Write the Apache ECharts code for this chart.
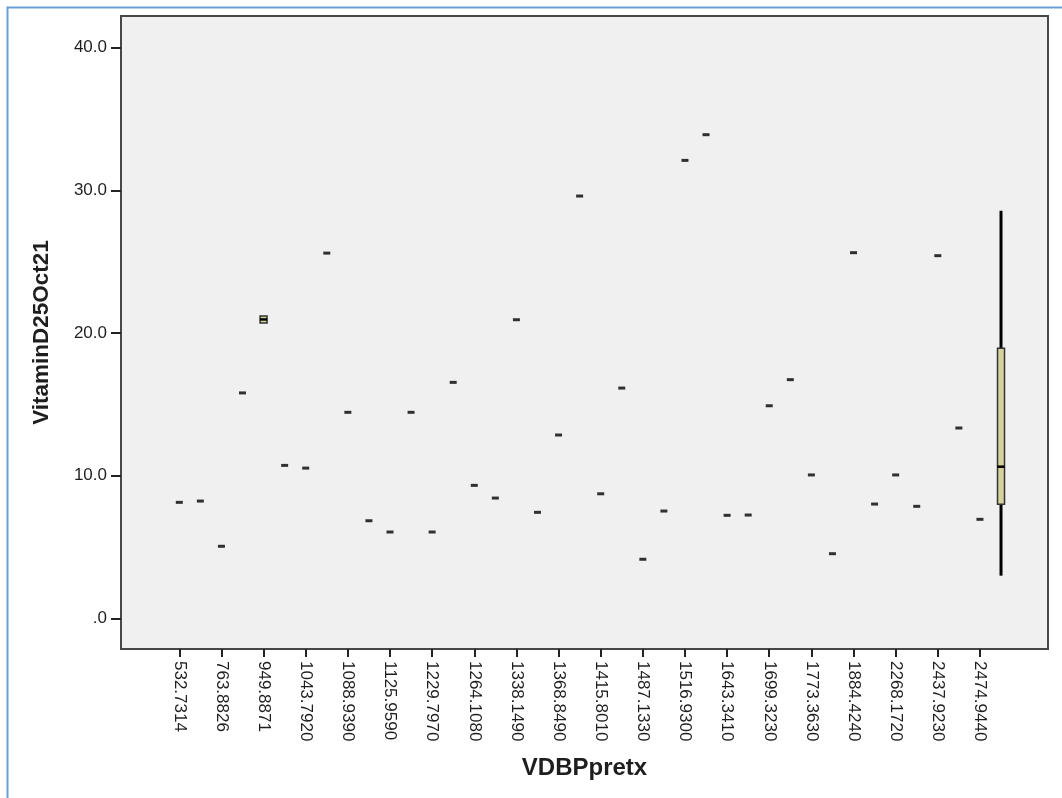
<!DOCTYPE html>
<html>
<head>
<meta charset="utf-8">
<script src="https://cdn.jsdelivr.net/npm/echarts@6/dist/echarts.min.js"></script>
<style>
html,body{margin:0;padding:0;background:#fff;}
#chart{width:1062px;height:798px;}
</style>
</head>
<body>
<div id="chart"></div>
<script>
// Category labels (every other category is labelled in the original; unlabeled ones left blank)
const categories = ['532.7314','', '763.8826','', '949.8871','', '1043.7920','', '1088.9390','',
  '1125.9590','', '1229.7970','', '1264.1080','', '1338.1490','', '1368.8490','',
  '1415.8010','', '1487.1330','', '1516.9300','', '1643.3410','', '1699.3230','',
  '1773.3630','', '1884.4240','', '2268.1720','', '2437.9230','', '2474.9440',''];
// single-value categories (drawn as a flat dash)
const values = [8.13, 8.22, 5.05, 15.8, null, 10.72, 10.53, 25.6, 14.44, 6.84,
  6.05, 14.44, 6.05, 16.54, 9.32, 8.43, 20.93, 7.43, 12.85, 29.6,
  8.73, 16.14, 4.14, 7.52, 32.1, 33.9, 7.22, 7.24, 14.9, 16.73,
  10.05, 4.53, 25.63, 8.01, 10.05, 7.85, 25.42, 13.34, 6.94, null];
// categories with a real box: [min, Q1, median, Q3, max]
const boxCategoryIndex = [4, 39];
const boxStats = [[20.7, 20.7, 20.95, 21.2, 21.2], [2.99, 7.99, 10.63, 18.93, 28.57]];
const yTicks = [0, 10, 20, 30, 40];
const xTickIdx = categories.map((c, i) => i).filter(i => categories[i] !== '');

const pointData = values.map((v, i) => v === null ? null : [i, v]).filter(d => d);
const boxData = boxCategoryIndex.map((ci, k) => [ci].concat(boxStats[k]));

const chart = echarts.init(document.getElementById('chart'));
const FONT = 'Liberation Sans, Arial, sans-serif';
const labelFont = {fontFamily: FONT, fontSize: 17, color: '#1e1e1e'};
chart.setOption({
  animation: false,
  backgroundColor: '#ffffff',
  graphic: [{
    type: 'polyline', silent: true,
    shape: {points: [[7.5, 800], [7.5, 7.5], [1064, 7.5]]},
    style: {stroke: '#6a9fd6', lineWidth: 2, fill: null}
  }],
  grid: {left: 121, top: 16, width: 927, height: 633, show: true,
    backgroundColor: '#f0f0f0', borderColor: '#474747', borderWidth: 2},
  xAxis: {
    type: 'value', min: -2.767, max: 41.23,
    name: 'VDBPpretx', nameLocation: 'middle', nameGap: 107,
    nameTextStyle: {fontFamily: FONT, fontSize: 24, fontWeight: 'bold', color: '#1e1e1e'},
    axisLine: {show: true, onZero: false, lineStyle: {color: '#474747', width: 2}},
    axisTick: {show: true, length: 8, customValues: xTickIdx, lineStyle: {color: '#222', width: 2}},
    axisLabel: Object.assign({rotate: -90, margin: 12, customValues: xTickIdx,
      formatter: v => categories[Math.round(v)]}, labelFont),
    splitLine: {show: false}
  },
  yAxis: {
    type: 'value', min: -2.15, max: 42.22,
    name: 'VitaminD25Oct21', nameLocation: 'middle', nameGap: 68,
    nameTextStyle: {fontFamily: FONT, fontSize: 22.5, fontWeight: 'bold', color: '#1e1e1e'},
    axisLine: {show: true, onZero: false, lineStyle: {color: '#474747', width: 2}},
    axisTick: {show: true, length: 10, customValues: yTicks, lineStyle: {color: '#222', width: 2}},
    axisLabel: Object.assign({margin: 14, customValues: yTicks,
      formatter: v => v === 0 ? '.0' : v.toFixed(1)}, labelFont),
    splitLine: {show: false}
  },
  series: [{
    type: 'scatter', data: pointData, symbol: 'rect', symbolSize: [7, 3],
    itemStyle: {color: '#000'}, silent: true
  }, {
    type: 'custom', data: boxData, silent: true,
    encode: {x: 0, y: [1, 2, 3, 4, 5]},
    renderItem: function (params, api) {
      const i = api.value(0);
      const pMin = api.coord([i, api.value(1)]);
      const pQ1 = api.coord([i, api.value(2)]);
      const pMed = api.coord([i, api.value(3)]);
      const pQ3 = api.coord([i, api.value(4)]);
      const pMax = api.coord([i, api.value(5)]);
      const w = 7, x = pMed[0];
      return {type: 'group', children: [
        {type: 'line', shape: {x1: x, y1: pMax[1], x2: x, y2: pQ3[1]}, style: {stroke: '#000', lineWidth: 3}},
        {type: 'line', shape: {x1: x, y1: pQ1[1], x2: x, y2: pMin[1]}, style: {stroke: '#000', lineWidth: 3}},
        {type: 'rect', shape: {x: x - w / 2, y: pQ3[1], width: w, height: pQ1[1] - pQ3[1]},
          style: {fill: '#d6d29b', stroke: '#333', lineWidth: 1.5}},
        {type: 'line', shape: {x1: x - w / 2, y1: pMed[1], x2: x + w / 2, y2: pMed[1]}, style: {stroke: '#000', lineWidth: 2.5}}
      ]};
    }
  }]
});
</script>
</body>
</html>
